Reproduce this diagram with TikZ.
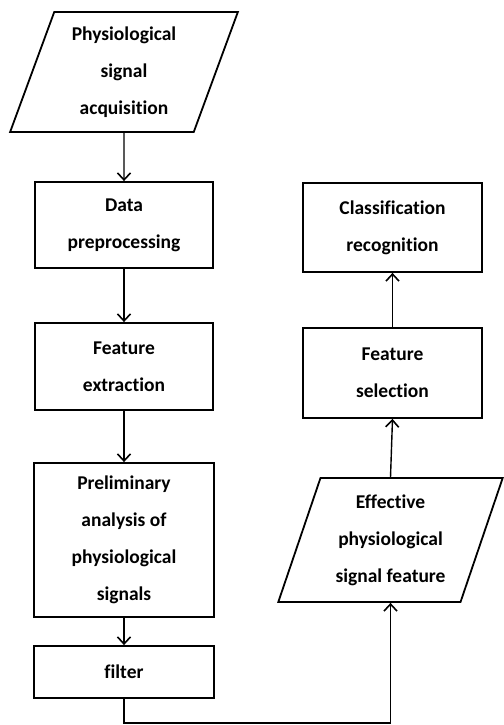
\documentclass[tikz,border=0pt]{standalone}
\usepackage{fontspec}
\setmainfont[RawFeature=-liga]{Carlito}
\usetikzlibrary{arrows.meta,shapes.geometric}
\begin{document}
\begin{tikzpicture}[x=1pt,y=1pt,
  block/.style={font=\fontsize{19.5}{37}\selectfont\bfseries, align=center, line width=1.8pt, draw, inner sep=0pt},
  box/.style={block, rectangle},
  para/.style={block, trapezium, trapezium left angle=70, trapezium right angle=110, trapezium stretches=true},
  conn/.style={line width=1.4pt, -{Straight Barb[length=7pt,width=13pt,line width=1.6pt]}}]
\useasboundingbox (0,0) rectangle (503,725);
\node[para, minimum width=228, minimum height=120] (acq) at (124,653) {Physiological\\signal\\acquisition};
\node[box, minimum width=178, minimum height=86] (pre) at (124,500) {Data\\preprocessing};
\node[box, minimum width=178, minimum height=87] (ext) at (124,358.5) {Feature\\extraction};
\node[box, minimum width=180, minimum height=154] (pa) at (124,185) {Preliminary\\analysis of\\physiological\\signals};
\node[box, minimum width=180, minimum height=52] (fil) at (124,53) {filter};
\node[box, minimum width=179, minimum height=89] (cls) at (392.5,497.5) {Classification\\recognition};
\node[box, minimum width=179, minimum height=90] (sel) at (392.5,352) {Feature\\selection};
\node[para, minimum width=225, minimum height=124] (eff) at (390.5,185) {Effective\\physiological\\signal feature};
\coordinate (c1) at (fil.south |- 0,2);
\coordinate (c2) at (eff.south |- 0,2);
\draw[conn] (acq.south) -- (pre.north);
\draw[conn] (pre.south) -- (ext.north);
\draw[conn] (ext.south) -- (pa.north);
\draw[conn] (pa.south) -- (fil.north);
\draw[conn] (fil.south) -- (c1) -- (c2) -- (eff.south);
\draw[conn] (eff.north) -- (sel.south);
\draw[conn] (sel.north) -- (cls.south);
\end{tikzpicture}
\end{document}
